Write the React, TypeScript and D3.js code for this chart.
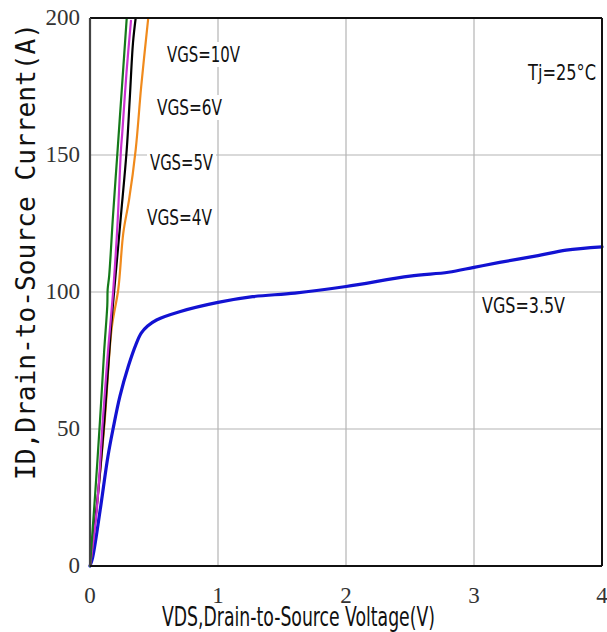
import React from "react";
import * as d3 from "d3";

const W = 607;
const H = 632;
const X0 = 90, X1 = 602, Y0 = 566, Y1 = 18;

const xTicks = [0, 1, 2, 3, 4];
const yTicks = [0, 50, 100, 150, 200];

// [VDS (V), ID (A)]
const vgs10: [number, number][] = [[0, 0], [0.04, 26], [0.078, 53], [0.11, 78], [0.135, 95], [0.138, 101], [0.15, 106], [0.18, 128], [0.216, 152], [0.25, 175], [0.287, 200]];
const vgs6: [number, number][] = [[0, 0], [0.052, 20], [0.1, 53], [0.14, 78], [0.182, 101], [0.215, 125], [0.242, 152], [0.252, 158], [0.285, 180], [0.32, 199]];
const vgs5: [number, number][] = [[0, 0], [0.06, 25], [0.112, 53], [0.164, 87], [0.19, 101], [0.24, 127], [0.287, 152], [0.31, 170], [0.336, 191], [0.357, 200]];
const vgs4: [number, number][] = [[0, 0], [0.06, 25], [0.115, 53], [0.17, 87], [0.221, 101], [0.26, 121.5], [0.305, 133.6], [0.357, 152], [0.4, 175], [0.455, 200]];
const vgs35: [number, number][] = [[0, 0], [0.02, 3], [0.078, 20], [0.14, 40], [0.18, 50], [0.234, 62], [0.3, 73], [0.36, 81], [0.4, 85], [0.45, 87.6], [0.52, 89.8], [0.7, 92.8], [1.0, 96.2], [1.27, 98.3], [1.6, 99.6], [2.0, 102], [2.5, 105.8], [2.8, 107.2], [3.0, 109], [3.2, 110.8], [3.5, 113.3], [3.72, 115.3], [4.0, 116.5]];

const series = [
  { data: vgs35, color: "#1212d2", width: 3.2 },
  { data: vgs4, color: "#f08a1c", width: 2.2 },
  { data: vgs5, color: "#000000", width: 2.2 },
  { data: vgs6, color: "#c930d0", width: 2.2 },
  { data: vgs10, color: "#157a1a", width: 2.2 },
];

const labels = [
  { text: "VGS=10V", x: 167, y: 62, len: 73 },
  { text: "VGS=6V", x: 157, y: 115, len: 65 },
  { text: "VGS=5V", x: 150, y: 170, len: 63 },
  { text: "VGS=4V", x: 147, y: 225, len: 65 },
  { text: "Tj=25\u00b0C", x: 528, y: 80, len: 68 },
  { text: "VGS=3.5V", x: 482, y: 313, len: 83 },
];

const sansNarrow = "'Liberation Sans Narrow', 'DejaVu Sans Condensed', 'Arial Narrow', sans-serif";
const serif = "'Liberation Serif', 'DejaVu Serif', serif";

export default function App() {
  const x = d3.scaleLinear().domain([0, 4]).range([X0, X1]);
  const y = d3.scaleLinear().domain([0, 200]).range([Y0, Y1]);
  const line = d3
    .line<[number, number]>()
    .x((d) => x(d[0]))
    .y((d) => y(d[1]))
    .curve(d3.curveCatmullRom.alpha(0.5));

  return (
    <svg width={W} height={H} style={{ position: "absolute", left: 0, top: 0, background: "#fff" }}>
      <rect x={0} y={0} width={W} height={H} fill="#fff" />
      {/* grid */}
      {xTicks.slice(1, -1).map((t) => (
        <line key={"gx" + t} x1={x(t)} x2={x(t)} y1={Y1} y2={Y0} stroke="#b4b4b4" strokeWidth={1.2} />
      ))}
      {yTicks.slice(1, -1).map((t) => (
        <line key={"gy" + t} x1={X0} x2={X1} y1={y(t)} y2={y(t)} stroke="#b4b4b4" strokeWidth={1.2} />
      ))}
      {/* label backgrounds */}
      {labels.map((l) => (
        <rect key={"bg" + l.text} x={l.x - 3} y={l.y - 20} width={l.len + 6} height={25} fill="#fff" />
      ))}
      {/* curves */}
      {series.map((s, i) => (
        <path key={i} d={line(s.data) || ""} fill="none" stroke={s.color} strokeWidth={s.width} strokeLinejoin="round" strokeLinecap="round" />
      ))}
      {/* frame */}
      <line x1={X0} x2={X1} y1={Y1} y2={Y1} stroke="#111" strokeWidth={2} />
      <line x1={X1} x2={X1} y1={Y1} y2={Y0} stroke="#111" strokeWidth={2} />
      <line x1={X0} x2={X0} y1={Y1} y2={Y0} stroke="#444" strokeWidth={2.2} />
      <line x1={X0} x2={X1} y1={Y0} y2={Y0} stroke="#111" strokeWidth={2.2} />
      {/* tick labels */}
      {yTicks.map((t) => (
        <text key={"yt" + t} x={80} y={y(t) + 7} textAnchor="end" fontFamily={serif} fontSize={23} fill="#333">
          {t}
        </text>
      ))}
      {xTicks.map((t) => (
        <text key={"xt" + t} x={x(t)} y={603} textAnchor="middle" fontFamily={serif} fontSize={23} fill="#333">
          {t}
        </text>
      ))}
      {/* annotations */}
      {labels.map((l) => (
        <text key={l.text} x={l.x} y={l.y} fontFamily={sansNarrow} fontSize={22} fill="#111" textLength={l.len} lengthAdjust="spacingAndGlyphs">
          {l.text}
        </text>
      ))}
      {/* axis titles */}
      <text x={162} y={626} fontFamily={sansNarrow} fontSize={27} fill="#111" textLength={273} lengthAdjust="spacingAndGlyphs">
        VDS,Drain-to-Source Voltage(V)
      </text>
      <text
        transform={`translate(35,480) rotate(-90)`}
        x={0}
        y={0}
        fontFamily="'DejaVu Sans Mono', monospace"
        fontSize={26}
        fill="#111"
        textLength={457}
        lengthAdjust="spacingAndGlyphs"
      >
        ID,Drain-to-Source Current(A)
      </text>
    </svg>
  );
}
